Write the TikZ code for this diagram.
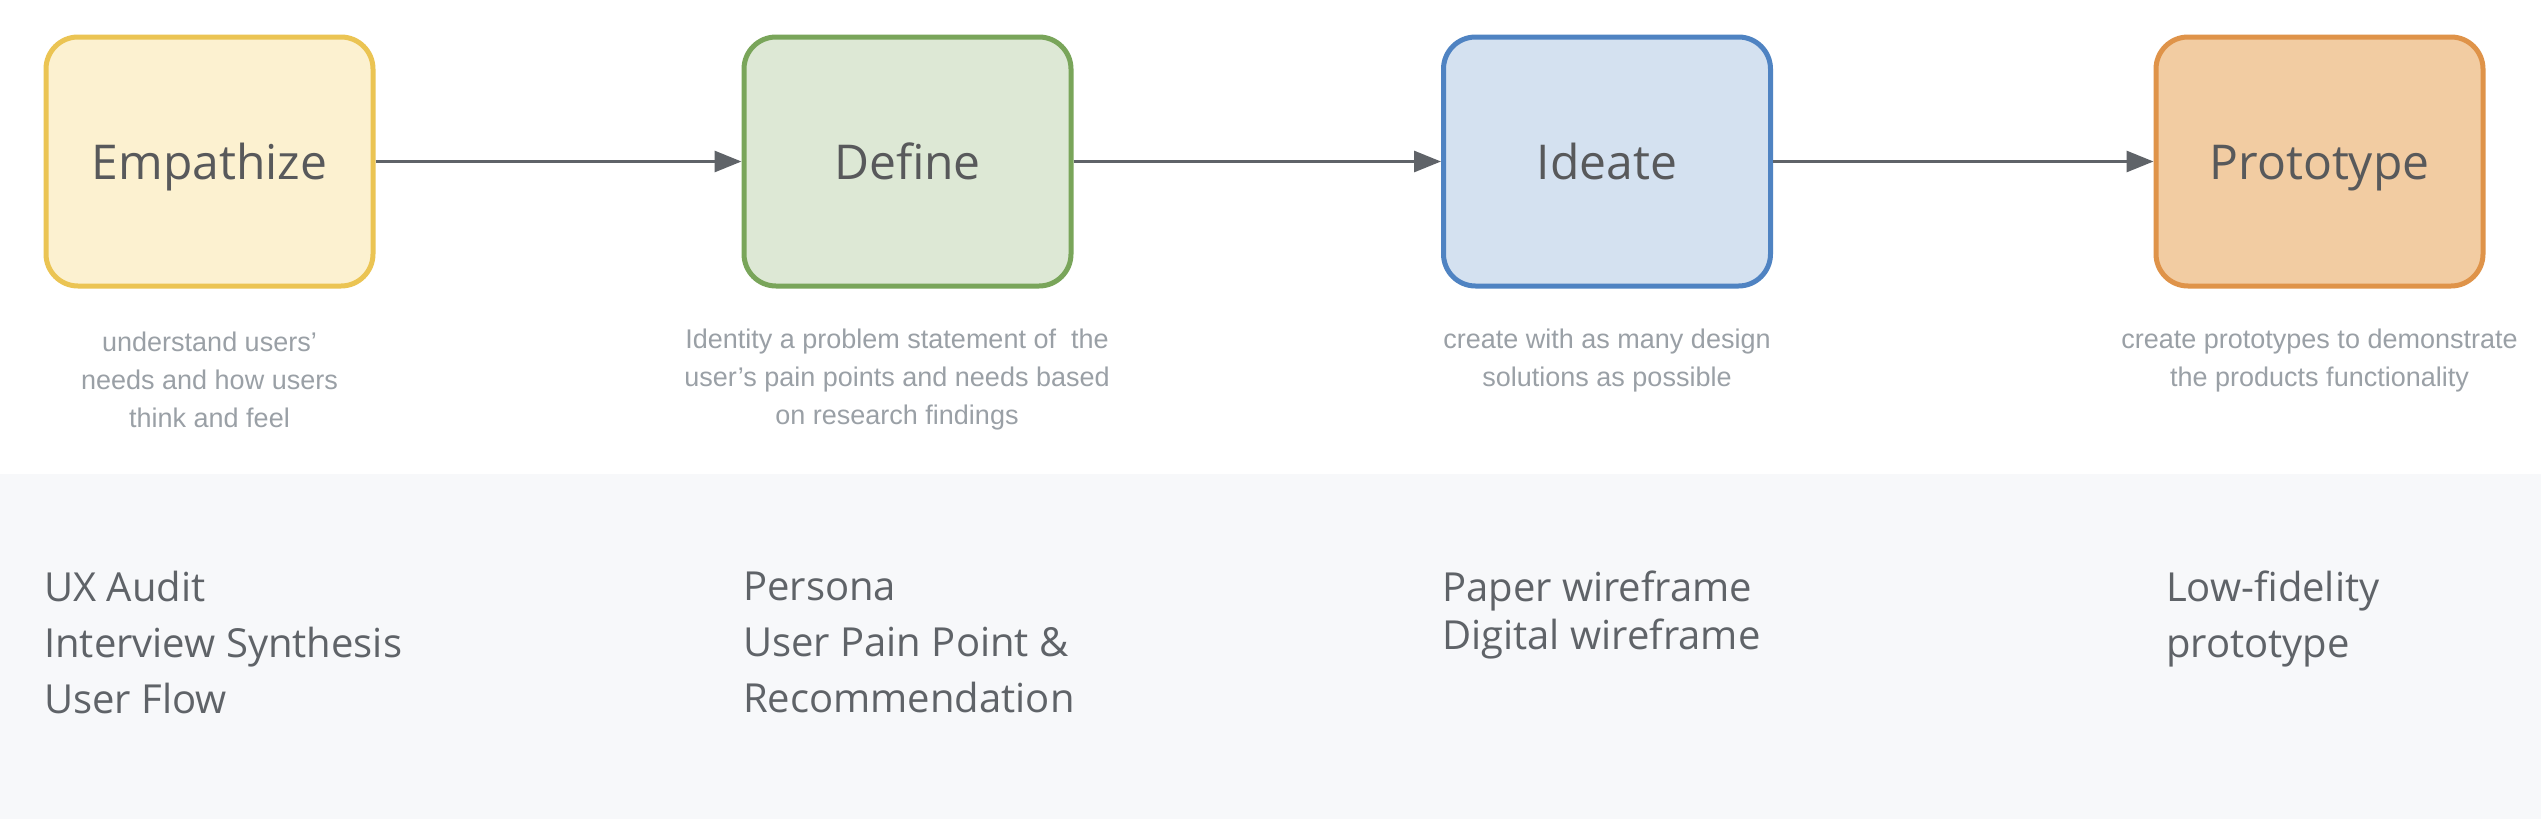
\documentclass[tikz,border=0pt]{standalone}
\usepackage{fontspec}
\setmainfont{Liberation Sans}
\newfontfamily\opensans{Open Sans}
\usetikzlibrary{arrows.meta}
\definecolor{yelF}{HTML}{FCF1D0}
\definecolor{yelD}{HTML}{EBC453}
\definecolor{grnF}{HTML}{DDE8D5}
\definecolor{grnD}{HTML}{79A55A}
\definecolor{bluF}{HTML}{D4E1F0}
\definecolor{bluD}{HTML}{4F83C2}
\definecolor{orgF}{HTML}{F2CCA2}
\definecolor{orgD}{HTML}{DF9349}
\definecolor{arrowc}{HTML}{5F6368}
\definecolor{titlec}{HTML}{58595B}
\definecolor{descc}{HTML}{9AA0A6}
\definecolor{listc}{HTML}{5F6368}
\definecolor{panelc}{HTML}{F7F8FA}
\tikzset{
  phasebox/.style={rounded corners=32pt, line width=5pt, minimum width=327pt, minimum height=249pt,
    font=\opensans\fontsize{48}{58}\selectfont, text=titlec, inner sep=0pt,
    text height=40pt, text depth=5pt},
  desctext/.style={align=center, inner sep=0pt, text=descc, font=\fontsize{27}{38}\selectfont},
  listtext/.style={align=left, anchor=west, inner sep=0pt, text=listc, font=\opensans\fontsize{40}{56}\selectfont},
  flow/.style={line width=3pt, draw=arrowc, -{Triangle[length=27pt,width=21pt]}}
}
\begin{document}
\begin{tikzpicture}[x=1pt,y=-1pt]
\useasboundingbox (0,0) rectangle (2544,830);
\fill[white] (0,0) rectangle (2544,830);
\fill[panelc] (0,474) rectangle (2541,819);

\node[phasebox, draw=yelD, fill=yelF] (emp) at (209.5,161.5) {Empathize};
\node[phasebox, draw=grnD, fill=grnF] (def) at (907.5,161.5) {Define};
\node[phasebox, draw=bluD, fill=bluF] (ide) at (1607,161.5) {Ideate};
\node[phasebox, draw=orgD, fill=orgF] (pro) at (2319.5,161.5) {Prototype};

\draw[flow] (emp.east) -- (def.west);
\draw[flow] (def.east) -- (ide.west);
\draw[flow] (ide.east) -- (pro.west);

\node[desctext] (empd) at (209.5,380) {understand users’\\needs and how users\\think and feel};
\node[desctext] (defd) at (897,380) {Identity a problem statement of \ the\\user’s pain points and needs based\\on research findings};
\node[desctext] (ided) at (1607,361) {create with as many design\\solutions as possible};
\node[desctext] (prod) at (2319.5,361) {create prototypes to demonstrate\\the products functionality};

\node[listtext] (empl) at (44,642) {UX Audit\\Interview Synthesis\\User Flow};
\node[listtext] (defl) at (743,642) {Persona\\User Pain Point \&\\Recommendation};
\node[listtext, font=\opensans\fontsize{40}{48}\selectfont] (idel) at (1442,615) {Paper wireframe\\Digital wireframe};
\node[listtext] (prol) at (2166,619) {Low-fidelity\\prototype};
\end{tikzpicture}
\end{document}
